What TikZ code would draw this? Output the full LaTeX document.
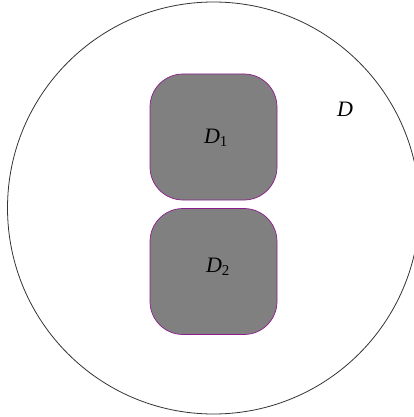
\documentclass[tikz,border=0pt]{standalone}
\usepackage{fontspec}
\setmainfont{Liberation Serif}
\usepackage{tikz}
\usetikzlibrary{positioning}
\definecolor{regfill}{RGB}{128,128,128}
\definecolor{regedge}{RGB}{140,30,140}
\newcommand{\dlab}[1]{\textit{D}\textsubscript{\fontsize{15}{15}\selectfont#1}}

\begin{document}
\begin{tikzpicture}[x=1pt,y=-1pt,
  font=\fontsize{22}{26}\selectfont,
  outer/.style={draw=black!80,line width=.8pt},
  region/.style={draw=regedge,fill=regfill,line width=.7pt,rounded corners=33pt,
    minimum width=127pt,minimum height=126pt,inner sep=0pt}]

\path[use as bounding box] (0,0) rectangle (414,417);
\draw[outer] (213.5,208) circle (206);
\node[region] (d1) at (213.5,137) {};
\node[region] (d2) at (213.5,271.5) {};
\node (d1lab) at (216,138) {\dlab{1}};
\node (d2lab) at (218,267) {\dlab{2}};
\node (dlab) at (345,109) {\textit{D}};

\end{tikzpicture}
\end{document}
